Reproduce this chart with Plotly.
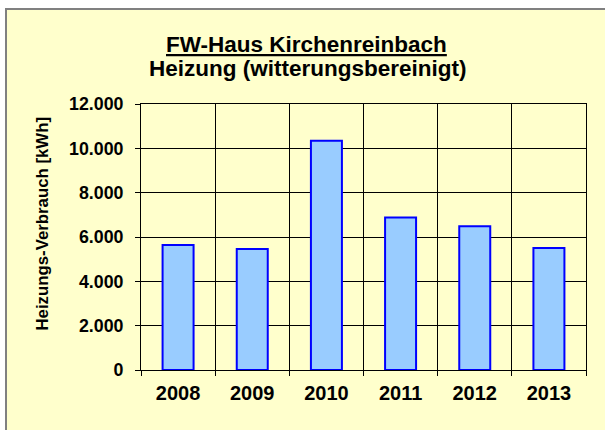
import plotly.graph_objects as go

years = ["2008", "2009", "2010", "2011", "2012", "2013"]
verbrauch = [5640, 5460, 10340, 6880, 6490, 5500]
title_line1 = "FW-Haus Kirchenreinbach"
title_line2 = "Heizung (witterungsbereinigt)"
y_title = "Heizungs-Verbrauch [kWh]"
y_ticks = [0, 2000, 4000, 6000, 8000, 10000, 12000]

FONT = "Arial, Liberation Sans, sans-serif"
W, H = 605, 430
ML, MR, MT, MB = 141, 19, 104, 60
pw, ph = W - ML - MR, H - MT - MB

def px_x(p):
    return (p - ML) / pw

def px_y(p):
    return (H - MB - p) / ph

fig = go.Figure(go.Bar(
    x=years, y=verbrauch,
    marker=dict(color="#99CCFF", line=dict(color="#0000FF", width=2)),
))

fig.update_layout(
    width=W, height=H,
    margin=dict(l=ML, r=MR, t=MT, b=MB, pad=0),
    paper_bgcolor="white",
    plot_bgcolor="#FFFFCC",
    bargap=0.582,
    separators=",.",
    showlegend=False,
    font=dict(family=FONT, color="black"),
    shapes=[dict(
        type="rect", xref="paper", yref="paper", layer="below",
        x0=px_x(6), x1=px_x(640), y0=px_y(460), y1=px_y(9),
        fillcolor="#FFFFCC", line=dict(color="#808080", width=2),
    )],
    annotations=[
        dict(text="<u>" + title_line1 + "</u>", xref="paper", yref="paper",
             x=px_x(306), y=px_y(44.5), xanchor="center", yanchor="middle",
             showarrow=False,
             font=dict(size=22.5, family=FONT, weight="bold")),
        dict(text=title_line2, xref="paper", yref="paper",
             x=px_x(307.5), y=px_y(68.5), xanchor="center", yanchor="middle",
             showarrow=False,
             font=dict(size=22.5, family=FONT, weight="bold")),
        dict(text=y_title, xref="paper", yref="paper", textangle=-90,
             x=px_x(41.5), y=px_y(224), xanchor="center", yanchor="middle",
             showarrow=False,
             font=dict(size=16.8, family=FONT, weight="bold")),
    ],
)

fig.update_xaxes(
    type="category", tickson="boundaries",
    showgrid=True, gridcolor="black", gridwidth=1,
    showline=True, linecolor="black", linewidth=1, mirror=True,
    ticks="outside", ticklen=5, tickcolor="black",
    tickfont=dict(size=20, family=FONT, weight="bold"),
    ticklabelstandoff=5,
)
fig.update_yaxes(
    range=[0, 12000], tickvals=y_ticks, tickformat=",d",
    showgrid=True, gridcolor="black", gridwidth=1,
    showline=True, linecolor="black", linewidth=1, mirror=True,
    ticks="outside", ticklen=5, tickcolor="black",
    tickfont=dict(size=17.8, family=FONT, weight="bold"),
    ticklabelstandoff=8,
    zeroline=False,
)

fig.write_html("out.html", config={"displayModeBar": False},
               post_script="document.body.style.margin='0px';")
